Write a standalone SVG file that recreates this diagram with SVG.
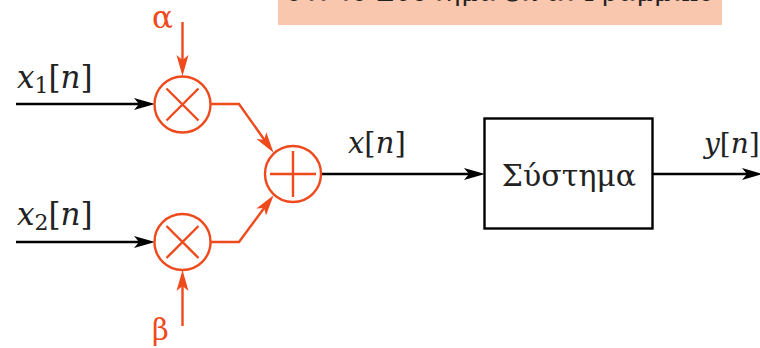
<svg xmlns="http://www.w3.org/2000/svg" width="760" height="348" viewBox="0 0 760 348">
<style>
.bk{stroke:#000;stroke-width:2.4;fill:none}
.rd{stroke:#EE4A1C;stroke-width:2.4;fill:none}
text{font-family:'DejaVu Serif','Liberation Serif',serif}
.lbl{fill:#222}
.it{font-style:italic}
.rl{fill:#EE4A1C}
</style>
<defs>
<marker id="ab" markerUnits="userSpaceOnUse" markerWidth="22" markerHeight="14" viewBox="0 0 22 14" refX="10" refY="7" orient="auto"><path d="M0,1 L21,7 L0,13 L5,7 z" fill="#000"/></marker>
<marker id="ar" markerUnits="userSpaceOnUse" markerWidth="22" markerHeight="14" viewBox="0 0 22 14" refX="10" refY="7" orient="auto"><path d="M0,1 L21,7 L0,13 L5,7 z" fill="#EE4A1C"/></marker>
</defs>
<g id="banner">
<rect x="278" y="-2" width="444" height="27" fill="#F9C6AE"/>
<text class="lbl" x="286" y="1" font-size="26" textLength="428" fill="#333">ότι το Σύστημα είναι Γραμμικό</text>
</g>
<g id="connectors">
<line class="bk" x1="16" y1="104" x2="144" y2="104" marker-end="url(#ab)"/>
<line class="bk" x1="16" y1="242" x2="144" y2="242" marker-end="url(#ab)"/>
<line class="rd" x1="182.5" y1="22" x2="182.5" y2="65" marker-end="url(#ar)"/>
<line class="rd" x1="182.5" y1="326" x2="182.5" y2="281" marker-end="url(#ar)"/>
<polyline class="rd" points="211,104 239,104 267.2,143.8" marker-end="url(#ar)"/>
<polyline class="rd" points="211,242 239,242 267.1,204" marker-end="url(#ar)"/>
<line class="bk" x1="321" y1="174" x2="474" y2="174" marker-end="url(#ab)"/>
<line class="bk" x1="653" y1="174" x2="752" y2="174" marker-end="url(#ab)"/>
</g>
<g id="mult1">
<circle class="rd" cx="182.5" cy="104.5" r="28"/>
<path class="rd" d="M166.5,88.5 L198.5,120.5 M198.5,88.5 L166.5,120.5"/>
</g>
<g id="mult2">
<circle class="rd" cx="182.5" cy="242" r="28"/>
<path class="rd" d="M166.5,226 L198.5,258 M198.5,226 L166.5,258"/>
</g>
<g id="adder">
<circle class="rd" cx="293" cy="174" r="28"/>
<path class="rd" d="M270,174 L316,174 M293,151 L293,197"/>
</g>
<g id="system">
<rect class="bk" x="484.5" y="118.5" width="168" height="110" fill="#fff"/>
<text class="lbl" x="569" y="186" font-size="30" text-anchor="middle">Σύστημα</text>
</g>
<g id="labels">
<text class="rl" x="152" y="28" font-size="31">α</text>
<text class="rl" x="152" y="340" font-size="29">β</text>
<text class="lbl" x="17" y="88" font-size="31"><tspan class="it">x</tspan><tspan font-size="22" dy="5">1</tspan><tspan dy="-5">[</tspan><tspan class="it">n</tspan>]</text>
<text class="lbl" x="17" y="225" font-size="31"><tspan class="it">x</tspan><tspan font-size="22" dy="5">2</tspan><tspan dy="-5">[</tspan><tspan class="it">n</tspan>]</text>
<text class="lbl" x="348" y="153" font-size="29"><tspan class="it">x</tspan>[<tspan class="it">n</tspan>]</text>
<text class="lbl" x="704" y="153" font-size="28"><tspan class="it">y</tspan>[<tspan class="it">n</tspan>]</text>
</g>
</svg>
